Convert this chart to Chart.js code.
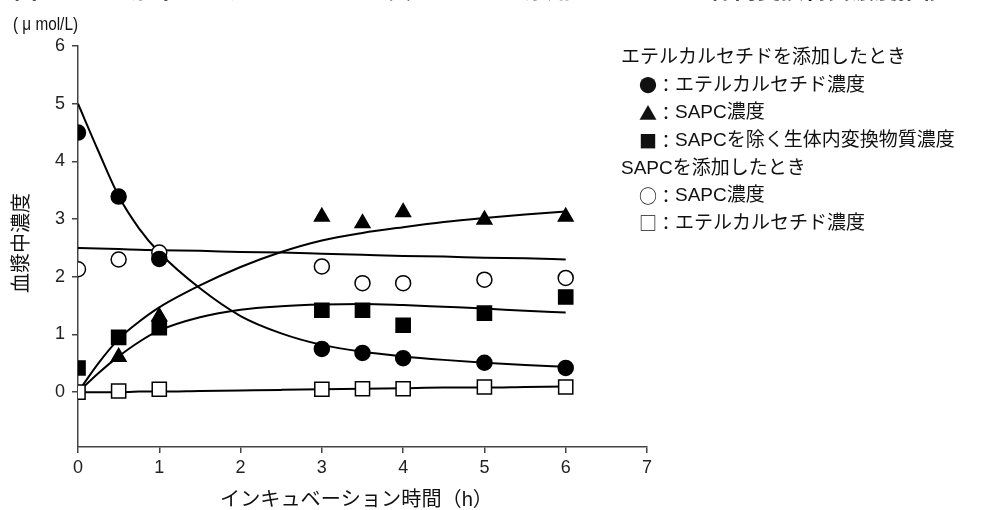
<!DOCTYPE html>
<html lang="ja">
<head>
<meta charset="utf-8">
<script src="https://cdn.jsdelivr.net/npm/chart.js@4.4.1/dist/chart.umd.min.js"></script>
<style>
  html, body { margin: 0; padding: 0; background: #fff; }
  #wrap { width: 981px; height: 510px; }
</style>
</head>
<body>
<div id="wrap"><canvas id="c" width="981" height="510"></canvas></div>
<script>
// Tick labels
const xTicks = [0, 1, 2, 3, 4, 5, 6, 7];
const yTicks = [0, 1, 2, 3, 4, 5, 6];

// Measured concentrations (μmol/L) at each incubation time (h)
const sampleTimes = [0, 0.5, 1, 3, 3.5, 4, 5, 6];
const eteConc      = [4.50, 3.39, 2.31, 0.75, 0.68, 0.59, 0.51, 0.42]; // ●
const sapcFromEte  = [null, 0.61, 1.31, 3.04, 2.93, 3.12, 2.99, 3.04]; // ▲
const otherFromEte = [0.42, 0.95, 1.12, 1.42, 1.42, 1.16, 1.37, 1.65]; // ■
const sapcAdded    = [2.13, 2.30, 2.42, 2.18, 1.89, 1.89, 1.95, 1.98]; // ○
const eteFromSapc  = [0.00, 0.02, 0.05, 0.05, 0.06, 0.06, 0.09, 0.09]; // □

// Fitted curves
const fitTimes   = [0, 0.25, 0.5, 0.75, 1, 1.5, 2, 2.5, 3, 3.5, 4, 4.5, 5, 5.5, 6];
const eteFit     = [5.00, 4.18, 3.40, 2.84, 2.42, 1.80, 1.32, 1.02, 0.82, 0.70, 0.62, 0.56, 0.51, 0.47, 0.44];
const sapcFit    = [0.00, 0.50, 0.92, 1.22, 1.47, 1.85, 2.17, 2.43, 2.63, 2.76, 2.86, 2.95, 3.02, 3.08, 3.13];
const otherFit   = [0.00, 0.33, 0.62, 0.87, 1.07, 1.30, 1.43, 1.49, 1.52, 1.53, 1.51, 1.48, 1.45, 1.41, 1.38];
const sapcAddFit = [2.50, 2.49, 2.48, 2.47, 2.46, 2.45, 2.43, 2.42, 2.40, 2.38, 2.36, 2.35, 2.33, 2.32, 2.30];
const eteSapcFit = [0.00, 0.00, 0.00, 0.01, 0.01, 0.02, 0.03, 0.04, 0.05, 0.06, 0.07, 0.08, 0.08, 0.09, 0.10];

const titleText = '図　ヒト血漿中でエテルカルセチド又はSAPCを添加したときの生体内変換物質濃度推移';
const unitText = '( μ mol/L)';
const yTitle = '血漿中濃度';
const xTitle = 'インキュベーション時間（h）';
const legendLines = [
  { symbol: '', text: 'エテルカルセチドを添加したとき' },
  { symbol: '●：', text: 'エテルカルセチド濃度' },
  { symbol: '▲：', text: 'SAPC濃度' },
  { symbol: '■：', text: 'SAPCを除く生体内変換物質濃度' },
  { symbol: '', text: 'SAPCを添加したとき' },
  { symbol: '○：', text: 'SAPC濃度' },
  { symbol: '□：', text: 'エテルカルセチド濃度' }
];

const FONT = '"Liberation Sans", Arial, sans-serif';
const JFONT = '"Liberation Sans", "Noto Sans CJK JP", sans-serif';
const CJK = '"Noto Sans CJK JP", sans-serif';

const pts = (xs, ys) => xs.map((x, i) => ({ x, y: ys[i] })).filter(p => p.y !== null);

const curve = (data) => ({
  type: 'scatter', data, showLine: true, pointRadius: 0,
  borderColor: '#000', borderWidth: 2, cubicInterpolationMode: 'monotone', order: 5
});

const marker = (data, style, filled, radius) => ({
  type: 'scatter', data, showLine: false, pointStyle: style, pointRadius: radius,
  pointHoverRadius: radius, pointBackgroundColor: filled ? '#000' : '#fff',
  pointBorderColor: '#000', pointBorderWidth: 1.5, order: 1
});

const textPlugin = {
  id: 'texts',
  afterDraw(chart) {
    const ctx = chart.ctx;
    ctx.save();
    ctx.fillStyle = '#111';
    // heading (runs off the top edge)
    ctx.font = 'bold 22px ' + JFONT;
    const w = ctx.measureText(titleText).width;
    const fs = 22 * 930 / w;
    ctx.font = 'bold ' + fs.toFixed(1) + 'px ' + JFONT;
    ctx.textBaseline = 'alphabetic';
    ctx.textAlign = 'left';
    ctx.fillText(titleText, 14, -2);

    // unit
    ctx.font = '18px "Liberation Sans Narrow", ' + JFONT;
    ctx.textBaseline = 'middle';
    const uw = ctx.measureText(unitText).width;
    ctx.save();
    ctx.translate(13, 25);
    ctx.scale(65 / uw, 1);
    ctx.fillText(unitText, 0, 0);
    ctx.restore();

    // y title
    ctx.save();
    ctx.translate(22, 243);
    ctx.rotate(-Math.PI / 2);
    ctx.textAlign = 'center';
    ctx.font = '20px ' + JFONT;
    ctx.fillText(yTitle, 0, 0);
    ctx.restore();

    // x title
    ctx.textAlign = 'left';
    ctx.font = '20px ' + JFONT;
    const xw = ctx.measureText(xTitle).width;
    ctx.save();
    ctx.translate(220, 500);
    ctx.scale(273 / xw, 1);
    ctx.fillText(xTitle, 0, 0);
    ctx.restore();

    // legend
    ctx.textAlign = 'left';
    legendLines.forEach((l, i) => {
      const y = 58 + i * 27.6;
      let x = l.symbol ? 639 : 621;
      if (l.symbol) {
        ctx.font = '18px ' + CJK;
        ctx.fillText(l.symbol, x, y);
        x += ctx.measureText(l.symbol).width;
      }
      ctx.font = '19px ' + JFONT;
      ctx.fillText(l.text, x, y);
    });
    ctx.restore();
  }
};

new Chart(document.getElementById('c'), {
  type: 'scatter',
  data: {
    datasets: [
      curve(pts(fitTimes, eteFit)),
      curve(pts(fitTimes, sapcFit)),
      curve(pts(fitTimes, otherFit)),
      curve(pts(fitTimes, sapcAddFit)),
      curve(pts(fitTimes, eteSapcFit)),
      marker(pts(sampleTimes, eteConc), 'circle', true, 7.5),
      marker(pts(sampleTimes, sapcFromEte), 'triangle', true, 8.5),
      marker(pts(sampleTimes, otherFromEte), 'rect', true, 10),
      marker(pts(sampleTimes, sapcAdded), 'circle', false, 7.5),
      marker(pts(sampleTimes, eteFromSapc), 'rect', false, 10)
    ]
  },
  options: {
    responsive: false,
    animation: false,
    events: [],
    layout: { padding: { left: 18, top: 46, right: 334, bottom: 33 } },
    plugins: { legend: { display: false }, tooltip: { enabled: false } },
    scales: {
      x: {
        type: 'linear', min: 0, max: 7,
        afterBuildTicks: s => { s.ticks = xTicks.map(v => ({ value: v })); },
        afterFit: s => { s.height = 30; },
        grid: { drawOnChartArea: false, drawTicks: true, tickLength: 6, color: '#444', lineWidth: 1.5 },
        border: { display: true, color: '#444', width: 1.5 },
        ticks: { color: '#222', font: { family: FONT, size: 18 }, padding: 4, maxRotation: 0 }
      },
      y: {
        type: 'linear', min: -0.95, max: 6,
        afterBuildTicks: s => { s.ticks = yTicks.map(v => ({ value: v })); },
        afterFit: s => { s.width = 60; },
        grid: { drawOnChartArea: false, drawTicks: true, tickLength: 6, color: '#444', lineWidth: 1.5 },
        border: { display: true, color: '#444', width: 1.5 },
        ticks: { color: '#222', font: { family: FONT, size: 18 }, padding: 7 }
      }
    }
  },
  plugins: [textPlugin]
});
</script>
</body>
</html>
